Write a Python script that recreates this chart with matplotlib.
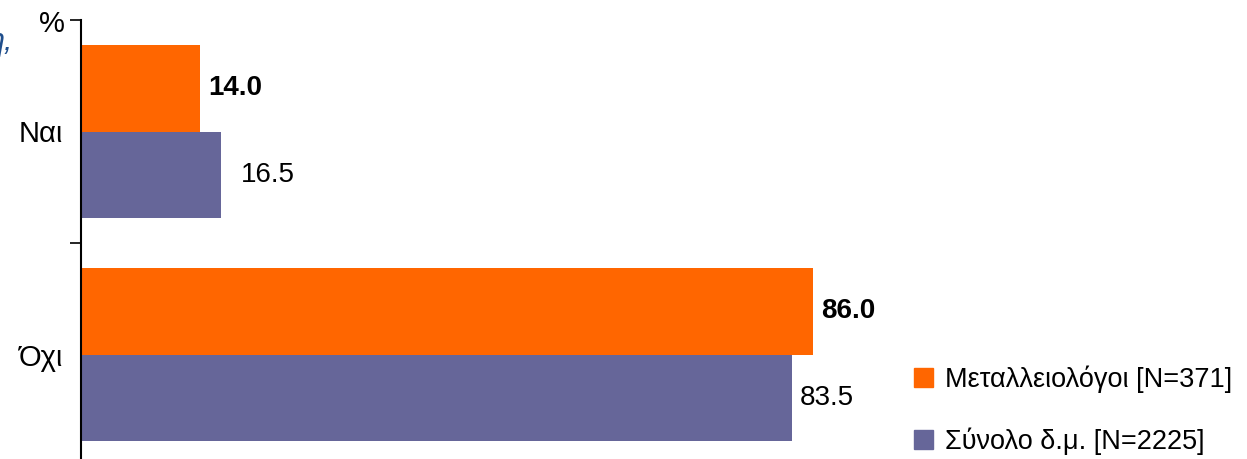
import numpy as np
import matplotlib.pyplot as plt
from matplotlib.patches import Patch

plt.rcParams['font.family'] = ['Liberation Sans', 'DejaVu Sans']

categories = ['Ναι', 'Όχι']
series_names = ['Μεταλλειολόγοι [N=371]', 'Σύνολο δ.μ. [N=2225]']
metal = [14.0, 86.0]
total = [16.5, 83.5]
colors = ['#FF6600', '#666699']

fig = plt.figure(figsize=(12.47, 4.59), dpi=100)
ax = fig.add_axes([81 / 1247, -7 / 459, 1 - 81 / 1247, 446 / 459])

y = np.arange(len(categories))
h = 0.386
ax.barh(y - h / 2, metal, height=h, color=colors[0])
ax.barh(y + h / 2, total, height=h, color=colors[1])

for yi, v in zip(y, metal):
    ax.annotate(f'{v:.1f}', (v, yi - h / 2), xytext=(6, 0), textcoords='offset points',
                va='center', ha='left', fontsize=20, fontweight='bold')
for yi, v, off in zip(y, total, [14, 6]):
    ax.annotate(f'{v:.1f}', (v, yi + h / 2), xytext=(off, 0), textcoords='offset points',
                va='center', ha='left', fontsize=20)

ax.set_xlim(0, 137)
ax.set_ylim(1.5, -0.5)
ax.set_xticks([])
ax.set_yticks([-0.5, 0.5])
ax.set_yticklabels([])
ax.set_yticks(y, minor=True)
ax.set_yticklabels(categories, minor=True, fontsize=21)
ax.tick_params(axis='y', which='major', length=8, width=1.2, direction='out')
ax.tick_params(axis='y', which='minor', length=0, pad=13)
for s in ['top', 'right', 'bottom']:
    ax.spines[s].set_visible(False)
ax.spines['left'].set_linewidth(1.5)

fig.text(52 / 1247, 1 - 24 / 459, '%', fontsize=21, ha='center', va='center')
fig.text(13 / 1247, 1 - 42 / 459, 'η,', fontsize=22, ha='right', va='center',
         color='#1F4E8C', style='italic')

handles = [Patch(color=c) for c in colors]
fig.legend(handles, series_names, loc='lower right', bbox_to_anchor=(1.008, -0.045),
           frameon=False, fontsize=19.5, handlelength=0.7, handleheight=0.7,
           handletextpad=0.45, labelspacing=1.3)

fig.savefig('out.png', dpi=100)
